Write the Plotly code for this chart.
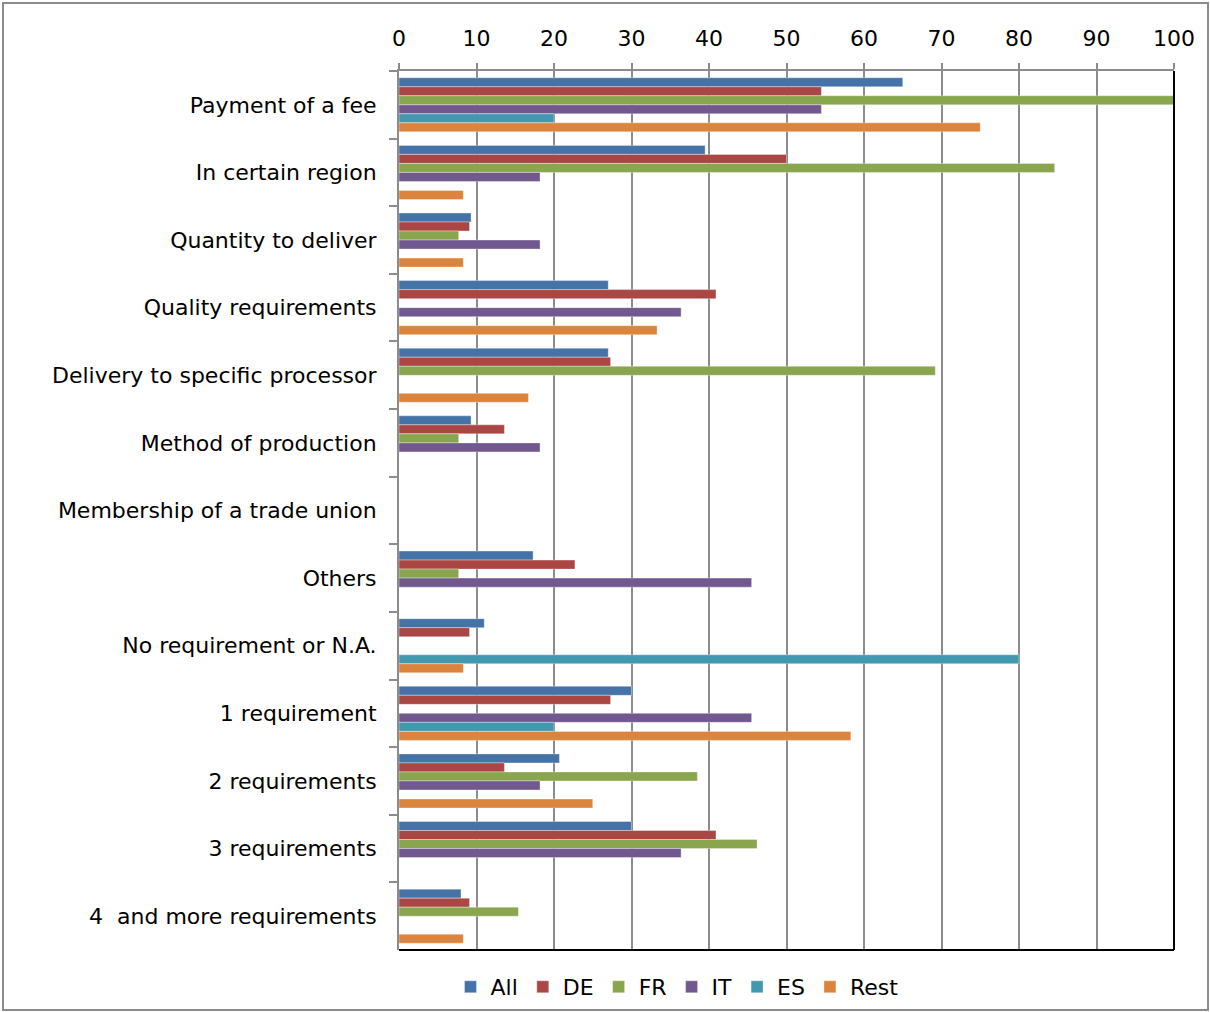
import plotly.graph_objects as go

categories = [
    "Payment of a fee",
    "In certain region",
    "Quantity to deliver",
    "Quality requirements",
    "Delivery to specific processor",
    "Method of production",
    "Membership of a trade union",
    "Others",
    "No requirement or N.A.",
    "1 requirement",
    "2 requirements",
    "3 requirements",
    "4  and more requirements",
]

all_vals = [65.0, 39.5, 9.3, 27.0, 27.0, 9.3, 0, 17.3, 11.0, 30.0, 20.7, 30.0, 8.0]
de_vals = [54.5, 50.0, 9.1, 40.9, 27.3, 13.6, 0, 22.7, 9.1, 27.3, 13.6, 40.9, 9.1]
fr_vals = [100.0, 84.6, 7.7, 0, 69.2, 7.7, 0, 7.7, 0, 0, 38.5, 46.2, 15.4]
it_vals = [54.5, 18.2, 18.2, 36.4, 0, 18.2, 0, 45.5, 0, 45.5, 18.2, 36.4, 0]
es_vals = [20.0, 0, 0, 0, 0, 0, 0, 0, 80.0, 20.0, 0, 0, 0]
rest_vals = [75.0, 8.3, 8.3, 33.3, 16.7, 0, 0, 0, 8.3, 58.3, 25.0, 0, 8.3]

series_names = ["All", "DE", "FR", "IT", "ES", "Rest"]
series_vals = [all_vals, de_vals, fr_vals, it_vals, es_vals, rest_vals]
colors = ["#4572A7", "#AA4643", "#89A54E", "#71588F", "#4198AF", "#DB843D"]

x_ticks = list(range(0, 101, 10))

fig = go.Figure()
for name, vals, col in zip(series_names, series_vals, colors):
    fig.add_trace(go.Bar(
        y=categories, x=vals, name=name, orientation="h",
        marker=dict(color=col, line=dict(width=0.6, color="rgba(255,255,255,0.6)")),
    ))

FONT = "DejaVu Sans, Verdana, sans-serif"

L, R, T, B = 399, 1174, 71, 950
W, H = 1210, 1012

def px(xp):
    return (xp - L) / (R - L)

def py(yp):
    return (B - yp) / (B - T)

fig.update_layout(
    width=W, height=H,
    margin=dict(l=L, r=W - R, t=T, b=H - B, pad=0, autoexpand=False),
    paper_bgcolor="white", plot_bgcolor="white",
    barmode="group", bargap=0.2, bargroupgap=0,
    font=dict(family=FONT, size=22, color="black"),
    showlegend=True,
    legend=dict(orientation="h", x=px(677), xanchor="center", y=py(987), yanchor="middle",
                font=dict(size=22), itemwidth=30, traceorder="normal",
                bgcolor="rgba(0,0,0,0)"),
    xaxis=dict(side="top", range=[0, 100], tickvals=x_ticks, ticktext=[str(v) for v in x_ticks],
               showgrid=True, gridcolor="#8c8c8c", gridwidth=1.5,
               showline=True, linecolor="#8c8c8c", linewidth=2,
               ticks="outside", ticklen=6, tickcolor="#8c8c8c", tickwidth=1.5,
               ticklabelstandoff=8,
               zeroline=False, fixedrange=True, automargin=False),
    yaxis=dict(autorange="reversed", type="category", tickson="boundaries",
               ticks="outside", ticklen=8, tickcolor="#8c8c8c", tickwidth=1.5,
               showgrid=False, showline=True, linecolor="#8c8c8c", linewidth=2,
               ticklabelstandoff=16, zeroline=False, fixedrange=True, automargin=False),
    shapes=[
        dict(type="line", xref="paper", yref="paper", x0=1, x1=1, y0=0, y1=1,
             line=dict(color="black", width=2)),
        dict(type="line", xref="paper", yref="paper", x0=0, x1=1, y0=0, y1=0,
             line=dict(color="black", width=2)),
        dict(type="rect", xref="paper", yref="paper",
             x0=px(3), x1=px(1208), y0=py(3), y1=py(1010),
             line=dict(color="#8c8c8c", width=2), fillcolor="rgba(0,0,0,0)", layer="below"),
    ],
)

fig.write_html("out.html", config={"displayModeBar": False},
               post_script="document.body.style.margin='0';")
